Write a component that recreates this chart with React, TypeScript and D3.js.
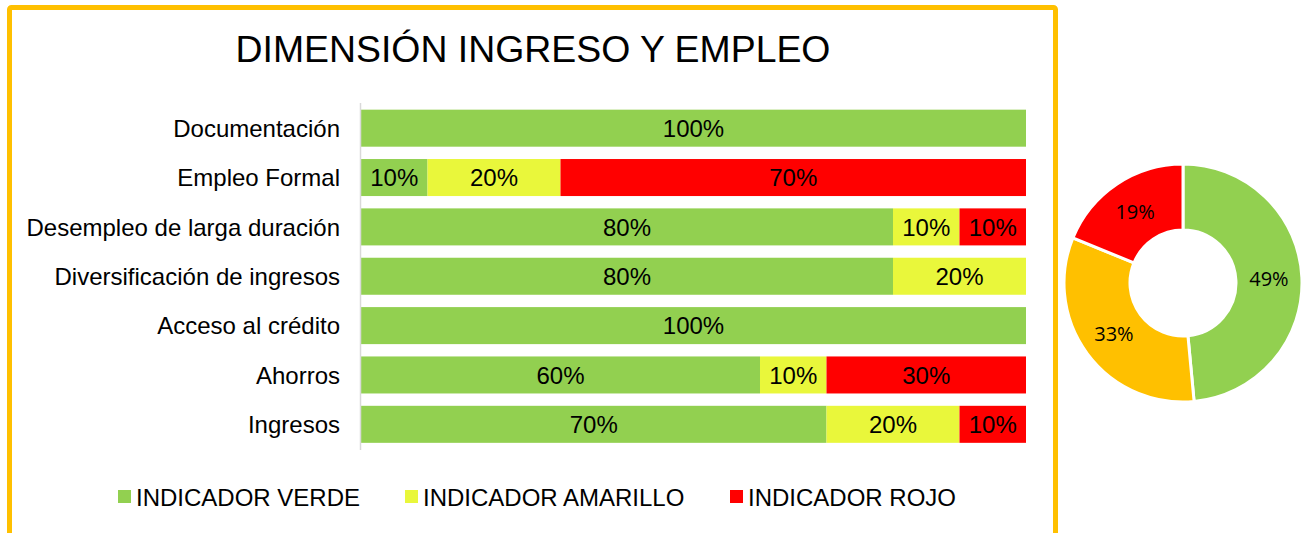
import React, { useEffect, useRef } from 'react';
import * as d3 from 'd3';

const categories = [
  'Documentación',
  'Empleo Formal',
  'Desempleo de larga duración',
  'Diversificación de ingresos',
  'Acceso al crédito',
  'Ahorros',
  'Ingresos',
];
const verde = [100, 10, 80, 80, 100, 60, 70];
const amarillo = [0, 20, 10, 20, 0, 10, 20];
const rojo = [0, 70, 10, 0, 0, 30, 10];

const seriesNames = ['INDICADOR VERDE', 'INDICADOR AMARILLO', 'INDICADOR ROJO'];
const seriesColors = ['#92D050', '#E9F73B', '#FF0000'];

const donutLabels = ['Verde', 'Amarillo', 'Rojo'];
const donutValues = [49, 33, 19];
const donutColors = ['#92D050', '#FFC000', '#FF0000'];

const W = 1303;
const H = 533;
const FONT = 'Liberation Sans, Arial, sans-serif';

const App = () => {
  const svgRef = useRef(null);

  useEffect(() => {
    const svg = d3.select(svgRef.current);
    svg.selectAll('*').remove();

    svg.append('rect').attr('width', W).attr('height', H).attr('fill', '#fff');

    // gold frame
    svg
      .append('rect')
      .attr('x', 9.5)
      .attr('y', 7.5)
      .attr('width', 1046)
      .attr('height', 528)
      .attr('rx', 2)
      .attr('fill', 'none')
      .attr('stroke', '#FFC000')
      .attr('stroke-width', 5);

    svg
      .append('text')
      .attr('x', 533)
      .attr('y', 62)
      .attr('text-anchor', 'middle')
      .style('font-family', FONT)
      .style('font-size', '37.4px')
      .style('fill', '#000')
      .text('DIMENSIÓN INGRESO Y EMPLEO');

    const x = d3.scaleLinear().domain([0, 100]).range([361, 1026]);
    const y = d3.scaleBand().domain(categories).range([103.5, 449]).paddingInner(0.25).paddingOuter(0.125);

    const rows = categories.map((c, i) => ({ cat: c, verde: verde[i], amarillo: amarillo[i], rojo: rojo[i] }));
    const stack = d3.stack().keys(['verde', 'amarillo', 'rojo']);
    const layers = stack(rows);

    const g = svg.append('g');
    layers.forEach((layer, li) => {
      layer.forEach((d, i) => {
        const v = d[1] - d[0];
        if (v <= 0) return;
        const x0 = x(d[0]);
        const x1 = x(d[1]);
        g.append('rect')
          .attr('x', x0)
          .attr('y', y(categories[i]))
          .attr('width', x1 - x0)
          .attr('height', y.bandwidth())
          .attr('fill', seriesColors[li]);
        g.append('text')
          .attr('x', (x0 + x1) / 2)
          .attr('y', y(categories[i]) + y.bandwidth() / 2)
          .attr('dy', '0.36em')
          .attr('text-anchor', 'middle')
          .style('font-family', FONT)
          .style('font-size', '24px')
          .style('fill', '#000')
          .text(`${v}%`);
      });
    });

    // category axis
    svg
      .append('line')
      .attr('x1', 360.5)
      .attr('x2', 360.5)
      .attr('y1', 103)
      .attr('y2', 450)
      .attr('stroke', '#D9D9D9')
      .attr('stroke-width', 1.5);

    categories.forEach((c) => {
      svg
        .append('text')
        .attr('x', 340)
        .attr('y', y(c) + y.bandwidth() / 2)
        .attr('dy', '0.36em')
        .attr('text-anchor', 'end')
        .style('font-family', FONT)
        .style('font-size', '24px')
        .style('fill', '#000')
        .text(c);
    });

    // legend
    const legendX = [118, 405, 730];
    seriesNames.forEach((name, i) => {
      svg
        .append('rect')
        .attr('x', legendX[i])
        .attr('y', 490)
        .attr('width', 13)
        .attr('height', 13)
        .attr('fill', seriesColors[i]);
      svg
        .append('text')
        .attr('x', legendX[i] + 18)
        .attr('y', 497)
        .attr('dy', '0.36em')
        .style('font-family', FONT)
        .style('font-size', '24px')
        .style('fill', '#000')
        .text(name);
    });

    // donut
    const pie = d3.pie().sort(null).value((d) => d.value);
    const arcs = pie(donutLabels.map((l, i) => ({ label: l, value: donutValues[i] })));
    const arc = d3.arc().innerRadius(53).outerRadius(119);
    const dg = svg.append('g').attr('transform', 'translate(1183,283)');
    dg.selectAll('path')
      .data(arcs)
      .enter()
      .append('path')
      .attr('d', arc)
      .attr('fill', (d, i) => donutColors[i])
      .attr('stroke', '#fff')
      .attr('stroke-width', 3);
    const labelArc = d3.arc().innerRadius(86).outerRadius(86);
    dg.selectAll('text')
      .data(arcs)
      .enter()
      .append('text')
      .attr('transform', (d) => `translate(${labelArc.centroid(d)})`)
      .attr('dy', '0.36em')
      .attr('text-anchor', 'middle')
      .style('font-family', 'Open Sans, Carlito, sans-serif')
      .style('font-size', '20px')
      .style('fill', '#000')
      .text((d) => `${d.data.value}%`);
  }, []);

  return <svg ref={svgRef} width={W} height={H} style={{ position: 'absolute', left: 0, top: 0 }} />;
};

export default App;
